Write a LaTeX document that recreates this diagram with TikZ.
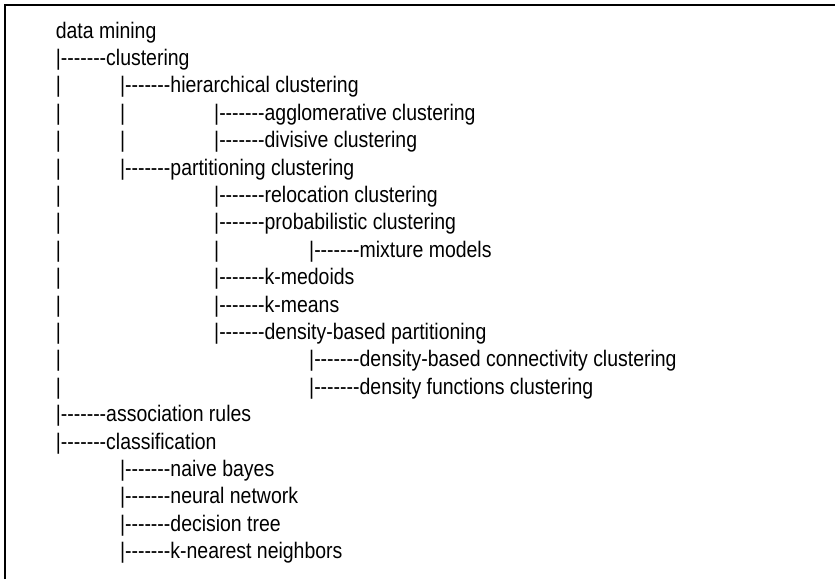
\documentclass[tikz,border=0pt]{standalone}
\usepackage{fontspec}
\setmainfont[FakeStretch=0.865]{Liberation Sans}
\newcommand\tdash{\hbox{-}\hbox{-}\hbox{-}\hbox{-}\hbox{-}\hbox{-}\hbox{-}}
\begin{document}
\begin{tikzpicture}[x=1pt,y=-1pt,
  item/.style={anchor=base west, inner sep=0pt, outer sep=0pt, font=\fontsize{22.5}{27}\selectfont},
  frameline/.style={line width=2pt, black}]
\useasboundingbox (0,0) rectangle (835,579);
\coordinate (fb) at (5,579);
\coordinate (fc) at (5,5);
\coordinate (fr) at (835,5);
\draw[frameline] (fb) -- (fc) -- (fr);
% columns: 55.8, 120, 214.2, 309.2
\node[item] (n0) at (55.8,38) {data mining};
\node[item] (n1) at (55.8,65.4) {|\tdash clustering};
\node[item] (v2a) at (55.8,92.8) {|};
\node[item] (n2) at (120,92.8) {|\tdash hierarchical clustering};
\node[item] (v3a) at (55.8,120.2) {|};
\node[item] (v3b) at (120,120.2) {|};
\node[item] (n3) at (214.2,120.2) {|\tdash agglomerative clustering};
\node[item] (v4a) at (55.8,147.6) {|};
\node[item] (v4b) at (120,147.6) {|};
\node[item] (n4) at (214.2,147.6) {|\tdash divisive clustering};
\node[item] (v5a) at (55.8,175) {|};
\node[item] (n5) at (120,175) {|\tdash partitioning clustering};
\node[item] (v6a) at (55.8,202.4) {|};
\node[item] (n6) at (214.2,202.4) {|\tdash relocation clustering};
\node[item] (v7a) at (55.8,229.8) {|};
\node[item] (n7) at (214.2,229.8) {|\tdash probabilistic clustering};
\node[item] (v8a) at (55.8,257.2) {|};
\node[item] (v8b) at (214.2,257.2) {|};
\node[item] (n8) at (309.2,257.2) {|\tdash mixture models};
\node[item] (v9a) at (55.8,284.6) {|};
\node[item] (n9) at (214.2,284.6) {|\tdash k-medoids};
\node[item] (v10a) at (55.8,312) {|};
\node[item] (n10) at (214.2,312) {|\tdash k-means};
\node[item] (v11a) at (55.8,339.4) {|};
\node[item] (n11) at (214.2,339.4) {|\tdash density-based partitioning};
\node[item] (v12a) at (55.8,366.8) {|};
\node[item] (n12) at (309.2,366.8) {|\tdash density-based connectivity clustering};
\node[item] (v13a) at (55.8,394.2) {|};
\node[item] (n13) at (309.2,394.2) {|\tdash density functions clustering};
\node[item] (n14) at (55.8,421.6) {|\tdash association rules};
\node[item] (n15) at (55.8,449) {|\tdash classification};
\node[item] (n16) at (120,476.4) {|\tdash naive bayes};
\node[item] (n17) at (120,503.8) {|\tdash neural network};
\node[item] (n18) at (120,531.2) {|\tdash decision tree};
\node[item] (n19) at (120,558.6) {|\tdash k-nearest neighbors};
\end{tikzpicture}
\end{document}
